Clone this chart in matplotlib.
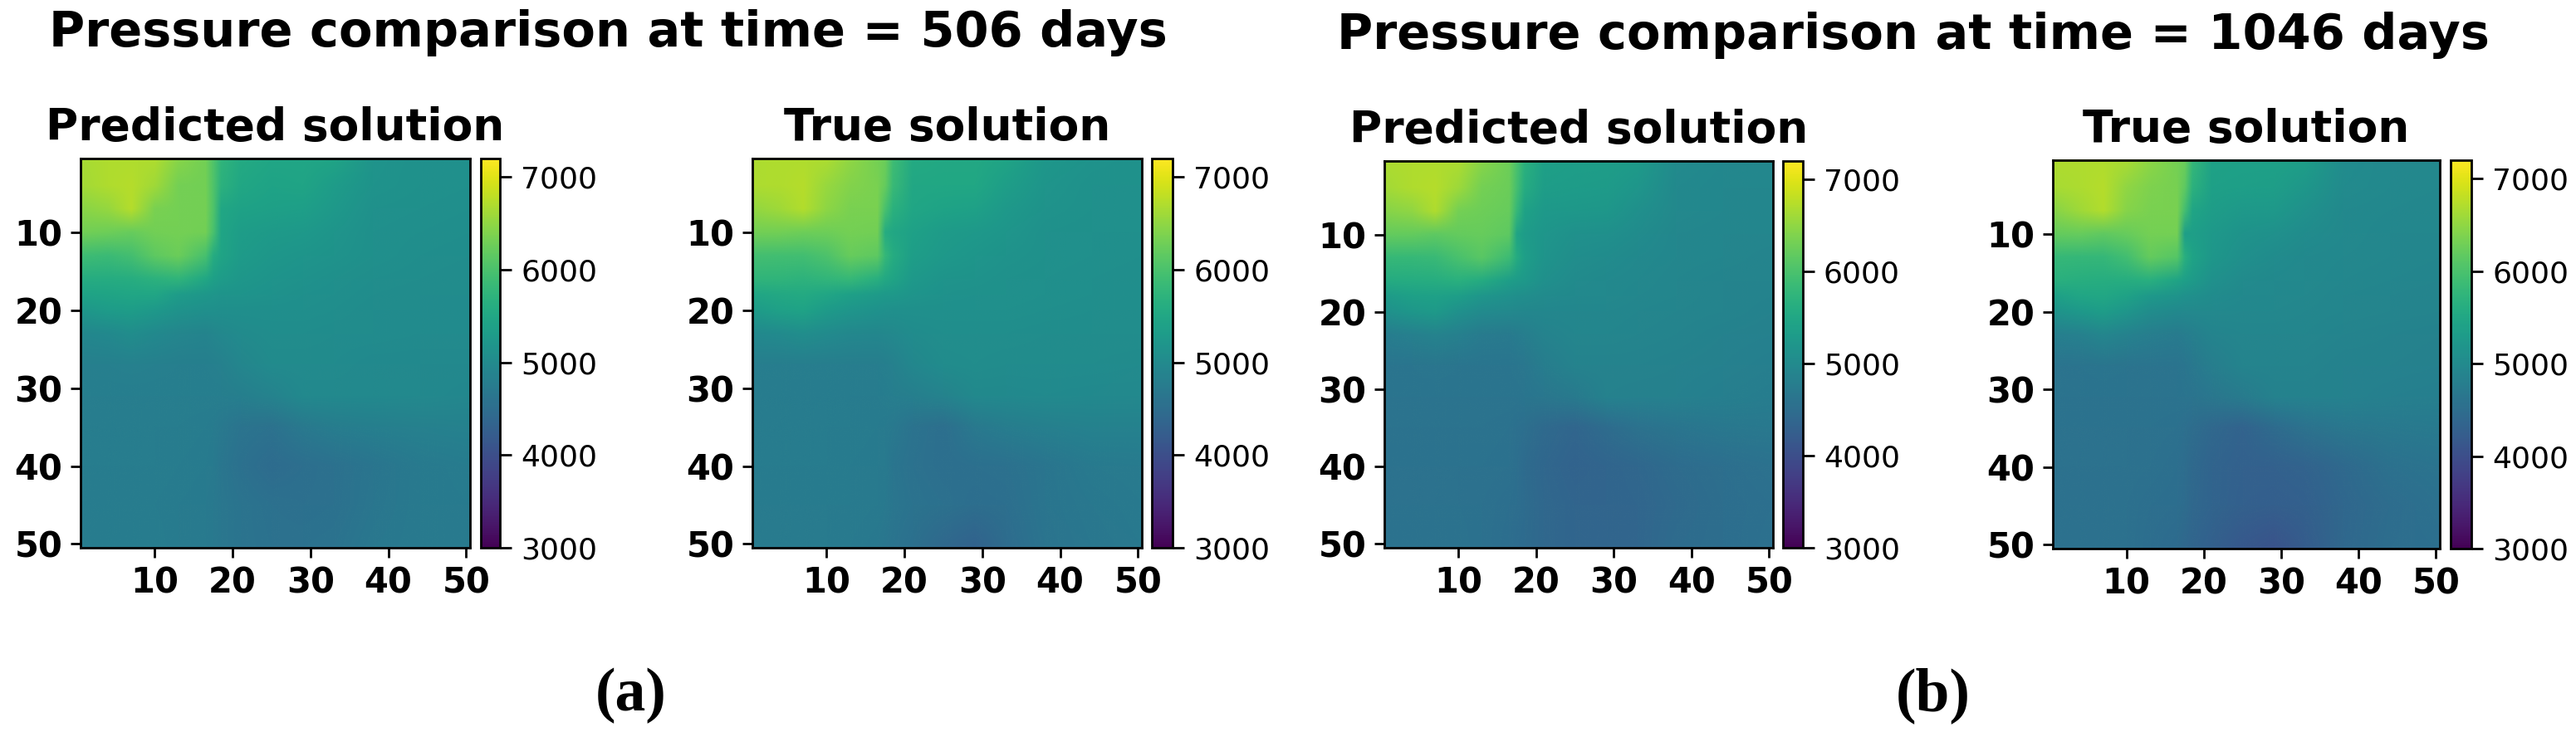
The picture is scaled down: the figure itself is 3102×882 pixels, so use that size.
import matplotlib
matplotlib.use('Agg')
import matplotlib.pyplot as plt
from matplotlib.image import NonUniformImage
import numpy as np

# sample positions of the pressure values, in grid cells
x_nodes = [0.5, 4, 7, 10, 13, 16.5, 17.5, 18.5, 21, 25, 29, 33, 38, 44, 50.5]
y_nodes = [0.5, 4, 7, 10, 13, 16, 18, 20, 23, 27, 31, 35, 40, 45, 50.5]

# pressure
pred_506 = [
    [6650, 6700, 6700, 6700, 6450, 6300, 6050, 5750, 5560, 5480, 5480, 5450, 5180, 5120, 5100],
    [6620, 6700, 6740, 6600, 6330, 6300, 6050, 5700, 5500, 5440, 5450, 5320, 5160, 5120, 5100],
    [6450, 6530, 6730, 6350, 6330, 6320, 6050, 5500, 5420, 5380, 5370, 5250, 5130, 5100, 5090],
    [6300, 6280, 6220, 6300, 6330, 6300, 6000, 5470, 5330, 5290, 5270, 5190, 5110, 5090, 5080],
    [5900, 5870, 5950, 6150, 6250, 5980, 5600, 5450, 5300, 5230, 5190, 5150, 5100, 5080, 5060],
    [5600, 5600, 5620, 5700, 5750, 5500, 5380, 5320, 5230, 5180, 5140, 5110, 5080, 5060, 5050],
    [5430, 5450, 5480, 5480, 5320, 5230, 5200, 5180, 5170, 5140, 5110, 5090, 5060, 5050, 5040],
    [5220, 5320, 5340, 5250, 5150, 5100, 5100, 5090, 5090, 5090, 5090, 5070, 5050, 5040, 5030],
    [4950, 5000, 5060, 4990, 4920, 4890, 4930, 4960, 5030, 5060, 5060, 5050, 5040, 5020, 5020],
    [4830, 4830, 4840, 4830, 4820, 4820, 4830, 4840, 4930, 5020, 5020, 5020, 5000, 5000, 4980],
    [4800, 4800, 4800, 4800, 4800, 4800, 4800, 4800, 4820, 4880, 5000, 4990, 4990, 4970, 4950],
    [4780, 4780, 4780, 4780, 4780, 4760, 4740, 4700, 4620, 4580, 4700, 4780, 4810, 4840, 4860],
    [4780, 4780, 4780, 4780, 4770, 4750, 4720, 4650, 4560, 4480, 4530, 4570, 4640, 4730, 4770],
    [4770, 4770, 4770, 4770, 4750, 4730, 4700, 4670, 4610, 4570, 4550, 4570, 4650, 4710, 4740],
    [4780, 4780, 4780, 4780, 4750, 4710, 4690, 4670, 4620, 4580, 4580, 4600, 4680, 4710, 4740],
]
true_506 = [
    [6680, 6700, 6700, 6680, 6500, 6320, 6250, 5900, 5560, 5530, 5530, 5450, 5230, 5150, 5130],
    [6680, 6700, 6740, 6560, 6420, 6350, 6200, 5850, 5520, 5500, 5500, 5350, 5190, 5130, 5120],
    [6520, 6600, 6720, 6480, 6350, 6350, 6000, 5680, 5480, 5430, 5400, 5270, 5150, 5120, 5110],
    [6300, 6300, 6280, 6270, 6320, 6300, 5600, 5520, 5400, 5310, 5280, 5200, 5130, 5110, 5100],
    [5950, 5930, 5930, 6030, 6220, 6150, 5800, 5600, 5350, 5260, 5210, 5160, 5120, 5100, 5090],
    [5750, 5740, 5720, 5760, 5820, 5650, 5530, 5460, 5280, 5180, 5150, 5130, 5110, 5090, 5080],
    [5480, 5540, 5560, 5480, 5380, 5300, 5270, 5250, 5190, 5140, 5130, 5120, 5100, 5090, 5080],
    [5300, 5400, 5430, 5300, 5210, 5140, 5120, 5110, 5100, 5110, 5110, 5100, 5090, 5080, 5070],
    [5000, 5020, 5080, 5020, 4960, 4940, 4960, 4980, 5050, 5080, 5080, 5070, 5060, 5060, 5060],
    [4800, 4800, 4800, 4800, 4800, 4800, 4820, 4850, 4950, 5040, 5060, 5050, 5040, 5040, 5030],
    [4770, 4770, 4770, 4770, 4770, 4770, 4780, 4790, 4810, 4880, 5000, 5000, 5010, 5000, 4980],
    [4760, 4760, 4760, 4760, 4760, 4740, 4710, 4690, 4600, 4530, 4690, 4780, 4830, 4860, 4870],
    [4760, 4760, 4760, 4760, 4750, 4730, 4710, 4640, 4580, 4530, 4550, 4570, 4630, 4720, 4750],
    [4750, 4750, 4750, 4750, 4740, 4720, 4690, 4650, 4600, 4560, 4520, 4540, 4630, 4680, 4720],
    [4750, 4750, 4750, 4740, 4720, 4680, 4650, 4610, 4550, 4420, 4320, 4480, 4620, 4660, 4700],
]
pred_1046 = [
    [6680, 6700, 6700, 6680, 6450, 6280, 6000, 5680, 5380, 5350, 5350, 5300, 5020, 4960, 4950],
    [6620, 6700, 6730, 6580, 6320, 6260, 5950, 5600, 5330, 5320, 5310, 5200, 5000, 4950, 4940],
    [6430, 6500, 6700, 6330, 6280, 6230, 5800, 5420, 5280, 5240, 5230, 5100, 4980, 4940, 4930],
    [6200, 6200, 6150, 6200, 6220, 6150, 5450, 5320, 5200, 5130, 5110, 5040, 4950, 4930, 4920],
    [5820, 5820, 5850, 6000, 6120, 5880, 5580, 5370, 5180, 5080, 5050, 4990, 4950, 4920, 4900],
    [5580, 5600, 5620, 5660, 5580, 5350, 5300, 5250, 5100, 5020, 4990, 4960, 4930, 4900, 4890],
    [5300, 5380, 5400, 5350, 5200, 5120, 5090, 5080, 5030, 4990, 4970, 4950, 4920, 4900, 4880],
    [5130, 5230, 5290, 5130, 5020, 4980, 4960, 4950, 4950, 4950, 4950, 4930, 4910, 4890, 4870],
    [4780, 4830, 4880, 4830, 4750, 4720, 4760, 4800, 4880, 4920, 4920, 4910, 4890, 4870, 4850],
    [4640, 4640, 4650, 4640, 4640, 4640, 4650, 4670, 4780, 4880, 4880, 4880, 4860, 4840, 4820],
    [4610, 4610, 4610, 4610, 4610, 4610, 4620, 4630, 4660, 4720, 4860, 4850, 4840, 4810, 4780],
    [4600, 4600, 4600, 4600, 4600, 4580, 4550, 4530, 4460, 4380, 4490, 4590, 4640, 4680, 4700],
    [4590, 4590, 4590, 4590, 4580, 4560, 4530, 4470, 4400, 4330, 4370, 4410, 4480, 4540, 4590],
    [4580, 4580, 4580, 4580, 4570, 4540, 4510, 4480, 4420, 4370, 4370, 4390, 4450, 4510, 4550],
    [4600, 4600, 4600, 4600, 4560, 4510, 4490, 4470, 4420, 4370, 4380, 4390, 4480, 4520, 4560],
]
true_1046 = [
    [6700, 6700, 6700, 6660, 6480, 6320, 6250, 5800, 5420, 5400, 5400, 5350, 5050, 4980, 4970],
    [6650, 6690, 6740, 6500, 6380, 6340, 6150, 5700, 5380, 5370, 5360, 5220, 5020, 4970, 4960],
    [6430, 6600, 6710, 6430, 6360, 6360, 5950, 5470, 5340, 5280, 5270, 5120, 5000, 4960, 4950],
    [6200, 6230, 6170, 6220, 6320, 6320, 5350, 5370, 5260, 5150, 5120, 5050, 4970, 4950, 4940],
    [5820, 5800, 5800, 5930, 6200, 6100, 5650, 5440, 5220, 5100, 5050, 5000, 4960, 4940, 4920],
    [5660, 5640, 5620, 5620, 5650, 5450, 5370, 5300, 5120, 5020, 4990, 4970, 4950, 4920, 4910],
    [5380, 5480, 5520, 5420, 5280, 5170, 5120, 5100, 5040, 4990, 4980, 4960, 4930, 4910, 4900],
    [5150, 5280, 5340, 5200, 5060, 5000, 4980, 4970, 4970, 4960, 4960, 4950, 4930, 4910, 4890],
    [4820, 4850, 4920, 4860, 4790, 4750, 4780, 4810, 4890, 4930, 4930, 4920, 4900, 4880, 4870],
    [4620, 4620, 4630, 4620, 4620, 4620, 4640, 4680, 4790, 4890, 4900, 4890, 4870, 4860, 4850],
    [4600, 4600, 4600, 4600, 4600, 4600, 4610, 4620, 4660, 4740, 4870, 4870, 4860, 4830, 4810],
    [4590, 4590, 4590, 4590, 4580, 4560, 4530, 4500, 4420, 4340, 4470, 4590, 4670, 4700, 4720],
    [4580, 4580, 4580, 4580, 4560, 4530, 4500, 4440, 4360, 4310, 4300, 4330, 4430, 4560, 4610],
    [4570, 4570, 4570, 4560, 4540, 4510, 4480, 4420, 4350, 4290, 4270, 4290, 4400, 4500, 4560],
    [4590, 4590, 4590, 4570, 4520, 4470, 4420, 4370, 4290, 4150, 4070, 4230, 4420, 4510, 4540],
]

grid_ticks = [10, 20, 30, 40, 50]
cbar_ticks = [3000, 4000, 5000, 6000, 7000]
panel_titles = ['Predicted solution', 'True solution', 'Predicted solution', 'True solution']

W, H = 3102, 882
fig = plt.figure(figsize=(W / 100, H / 100), dpi=100)


def px_axes(left, right, top, bottom):
    # pixel box measured from the top left corner of the picture
    return fig.add_axes([left / W, 1 - bottom / H, (right - left) / W, (bottom - top) / H])


# left, right, top, bottom of heatmap, then left and right of colorbar
boxes = [
    (97, 566, 191, 660, 579, 602),
    (906, 1375, 191, 660, 1387, 1412),
    (1667, 2135, 194, 660, 2147, 2171),
    (2472, 2938, 193, 661, 2951, 2976),
]
panels = [pred_506, true_506, pred_1046, true_1046]

for box, values, name in zip(boxes, panels, panel_titles):
    left, right, top, bottom, c_left, c_right = box
    ax = px_axes(left, right, top, bottom)
    # value space interpolation, so the colours stay on the viridis scale
    im = NonUniformImage(ax, interpolation='bilinear', cmap='viridis',
                         norm=plt.Normalize(3000, 7200))
    im.set_data(x_nodes, y_nodes, np.array(values, dtype=float))
    ax.add_image(im)
    ax.set_xlim(0.5, 50.5)
    ax.set_ylim(50.5, 0.5)
    ax.set_xticks(grid_ticks)
    ax.set_yticks(grid_ticks)
    ax.tick_params(length=8.6, width=2, labelsize=30, pad=7)
    for lab in ax.get_xticklabels() + ax.get_yticklabels():
        lab.set_fontweight('bold')
    for s in ax.spines.values():
        s.set_linewidth(2)
    ax.set_title(name, fontsize=38.5, fontweight='bold', pad=16)

    cax = px_axes(c_left, c_right, top, bottom)
    cb = fig.colorbar(im, cax=cax)
    cb.set_ticks(cbar_ticks)
    cb.ax.tick_params(length=10, width=2, labelsize=26, pad=8)
    cb.outline.set_linewidth(2)

# figure titles and sub-figure letters
fig.text(59 / W, 1 - 56 / H, 'Pressure comparison at time = 506 days',
         fontsize=42.5, fontweight='bold', ha='left', va='baseline')
fig.text(1610 / W, 1 - 59 / H, 'Pressure comparison at time = 1046 days',
         fontsize=42.5, fontweight='bold', ha='left', va='baseline')
fig.text(760 / W, 1 - 856 / H, '(a)', fontsize=53, fontweight='bold',
         family='Liberation Serif', ha='center', va='baseline')
fig.text(2328 / W, 1 - 856 / H, '(b)', fontsize=53, fontweight='bold',
         family='Liberation Serif', ha='center', va='baseline')

fig.savefig('out.png', dpi=100)
